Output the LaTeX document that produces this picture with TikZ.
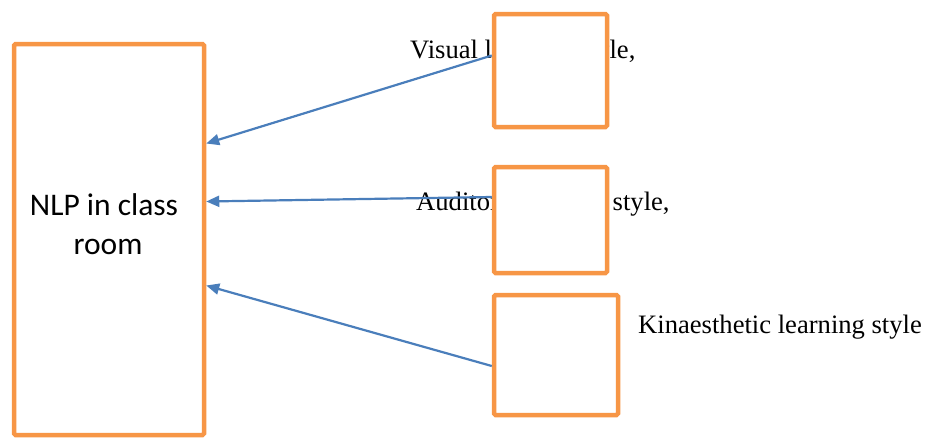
\documentclass[tikz,border=0pt]{standalone}
\usepackage{fontspec}
\setmainfont{Liberation Serif}
\newfontfamily\calibri{Carlito}
\usetikzlibrary{arrows.meta}
\definecolor{boxorange}{HTML}{F79646}
\definecolor{arrowblue}{HTML}{4A7EBB}
\tikzset{
  stylebox/.style={draw=boxorange, line width=4.5pt, fill=white, rounded corners=1.5pt, inner sep=0pt},
  styletext/.style={anchor=base west, inner sep=0pt, font=\fontsize{26.6}{32}\selectfont},
  linkarrow/.style={draw=arrowblue, line width=2.2pt, -{Triangle[length=13pt,width=11pt]}}
}
\begin{document}
\begin{tikzpicture}[x=1pt,y=-1pt]
\useasboundingbox (0,0) rectangle (928,439);

\node[styletext] (visual) at (410,58) {Visual learning style,};
\node[styletext] (auditory) at (416,210) {Auditory learning style,};
\node[styletext] (kinaes) at (638,333) {Kinaesthetic learning style};

\node[stylebox, minimum width=190pt, minimum height=391pt] (nlp) at (109,239.5) {};
\node[align=center, font=\calibri\fontsize{31.5}{39}\selectfont] (nlptext) at (108,224) {NLP in class\kern8pt\\room};

\node[stylebox, minimum width=113pt, minimum height=113pt] (vbox) at (550.5,70.5) {};
\node[stylebox, minimum width=113pt, minimum height=106pt] (abox) at (550.5,220) {};
\node[stylebox, minimum width=124pt, minimum height=120pt] (kbox) at (556,355) {};

\path[linkarrow] ([yshift=15pt]vbox.west) -- ([yshift=96pt]nlp.east);
\path[linkarrow] ([yshift=23pt]abox.west) -- ([yshift=38pt]nlp.east);
\path[linkarrow] ([yshift=-11pt]kbox.west) -- ([yshift=-46pt]nlp.east);
\end{tikzpicture}
\end{document}
